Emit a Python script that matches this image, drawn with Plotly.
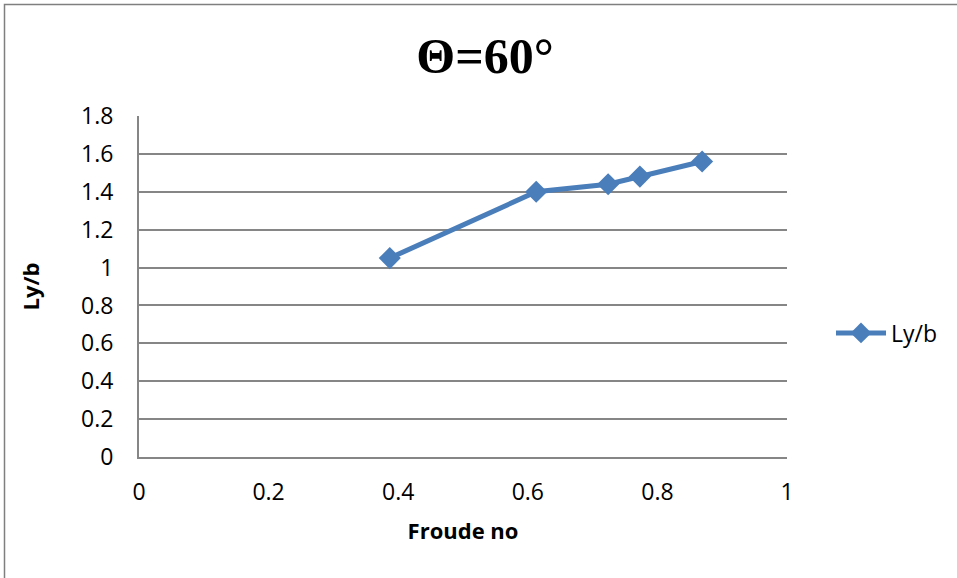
import plotly.graph_objects as go

# Froude number vs. relative length Ly/b at theta = 60 degrees
froude_no = [0.387, 0.613, 0.724, 0.773, 0.869]
ly_b = [1.05, 1.40, 1.44, 1.48, 1.56]
x_ticks = [0, 0.2, 0.4, 0.6, 0.8, 1]
x_tick_text = ["0", "0.2", "0.4", "0.6", "0.8", "1"]
y_ticks = [0, 0.2, 0.4, 0.6, 0.8, 1.0, 1.2, 1.4, 1.6, 1.8]
y_tick_text = ["0", "0.2", "0.4", "0.6", "0.8", "1", "1.2", "1.4", "1.6", "1.8"]

W, H = 957, 578
L, R, T, B = 139, 170, 116, 121
pw, ph = W - L - R, H - T - B

blue = "#4A7EBB"
grid = "#868686"
font = "Open Sans"

fig = go.Figure()
fig.add_trace(go.Scatter(
    x=froude_no, y=ly_b, mode="lines+markers", name="Ly/b",
    line=dict(color=blue, width=5),
    marker=dict(symbol="diamond", size=17, color=blue),
))

fig.update_layout(
    width=W, height=H,
    margin=dict(l=L, r=R, t=T, b=B),
    paper_bgcolor="white", plot_bgcolor="white",
    title=dict(text="<b>Θ=60°</b>", x=485 / W, xanchor="center",
               y=1 - 55 / H, yanchor="middle",
               font=dict(family="Liberation Serif", size=50, color="black")),
    xaxis=dict(range=[0, 1], tickvals=x_ticks, ticktext=x_tick_text,
               showgrid=False, zeroline=False, showline=True,
               linecolor=grid, linewidth=2, ticks="",
               ticklabelstandoff=13,
               tickfont=dict(family=font, size=23, color="black"),
               title=dict(text="<b>Froude no</b>", standoff=18,
                          font=dict(family=font, size=22, color="black"))),
    yaxis=dict(range=[0, 1.8], tickvals=y_ticks, ticktext=y_tick_text,
               showgrid=True, gridcolor=grid, gridwidth=1.5,
               zeroline=False, showline=True, linecolor=grid, linewidth=2,
               ticks="", ticklabelstandoff=19,
               tickfont=dict(family=font, size=23, color="black"),
               title=dict(text="<b>Ly/b</b>", standoff=35,
                          font=dict(family=font, size=22, color="black"))),
    legend=dict(x=(831 - L) / pw, y=(457 - 333) / ph, xanchor="left",
                yanchor="middle", bgcolor="rgba(0,0,0,0)",
                font=dict(family=font, size=23, color="black"),
                itemwidth=50),
    showlegend=True,
)

# Outer chart frame (top and left edges visible)
fig.add_shape(type="rect", xref="paper", yref="paper",
              x0=(4.5 - L) / pw, x1=(W + 20 - L) / pw,
              y0=(457 - (H + 20)) / ph, y1=(457 - 4.5) / ph,
              line=dict(color="#7f7f7f", width=1.5), fillcolor="rgba(0,0,0,0)",
              layer="below")

fig.write_html("out.html")
